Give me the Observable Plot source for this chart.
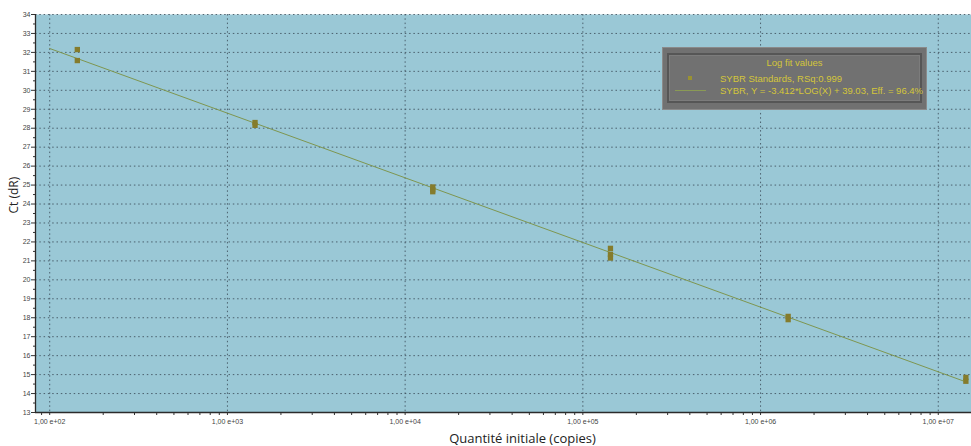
<!DOCTYPE html>
<html>
<head>
<meta charset="utf-8">
<script src="https://cdn.jsdelivr.net/npm/d3@7"></script>
<script src="https://cdn.jsdelivr.net/npm/@observablehq/plot@0.6"></script>
<style>
  body { margin: 0; background: #fff; }
  #wrap { position: relative; width: 971px; height: 446px; overflow: hidden; }
  #wrap svg { position: absolute; left: 0; top: 0; }
  .legend { position: absolute; left: 662px; top: 47px; width: 265px; height: 63px; box-sizing: border-box;
            background: #717171; border: 1px solid #8a8a8a; font-family: "Liberation Sans", Arial, sans-serif; color: #D4C63A; }
  .legend .inner { position: absolute; left: 4px; top: 5px; right: 4px; bottom: 6px; border: 2px solid #565656; box-shadow: inset 0 0 0 1px #7c7c7c; }
  .legend .t { position: absolute; font-size: 9.5px; white-space: nowrap; line-height: 1; }
</style>
</head>
<body>
<div id="wrap"></div>
<script>
// Data
const quantities = [143, 143, 1430, 1430, 14300, 14300, 14300, 143000, 143000, 143000, 1430000, 1430000, 14300000, 14300000];
const ctValues   = [32.15, 31.57, 28.3, 28.15, 24.9, 24.75, 24.65, 21.66, 21.35, 21.15, 18.07, 17.9, 14.85, 14.65];
const fitSlope = -3.412;
const fitIntercept = 39.03;
const fitRange = [100, 14300000];
const decadeTicks = [1e2, 1e3, 1e4, 1e5, 1e6, 1e7];
const ctTicks = d3.range(13, 35);
const ctMinorTicks = d3.range(13.5, 34, 1);
const legendTitle = "Log fit values";
const legendLines = ["SYBR Standards, RSq:0.999", "SYBR, Y = -3.412*LOG(X) + 39.03, Eff. = 96.4%"];

const xDomain = [Math.pow(10, 1.92), Math.pow(10, 7.187)];
const minorXTicks = [];
for (let e = 1; e <= 7; e++) for (let k = 2; k <= 9; k++) {
  const v = k * Math.pow(10, e);
  if (v > xDomain[0] && v < xDomain[1]) minorXTicks.push(v);
}
const points = quantities.map((q, i) => ({q, ct: ctValues[i]}));
const fit = fitRange.map(q => ({q, ct: fitSlope * Math.log10(q) + fitIntercept}));

const gridStyle = {stroke: "#3d4f5c", strokeOpacity: 0.85, strokeWidth: 1, strokeDasharray: "1.5,2.8"};

const svg = Plot.plot({
  width: 971, height: 446,
  marginLeft: 35, marginRight: 0, marginTop: 14, marginBottom: 34,
  style: {fontFamily: "Liberation Sans, Arial, sans-serif", background: "transparent", color: "#333"},
  x: {type: "log", domain: xDomain},
  y: {domain: [13, 34]},
  marks: [
    Plot.frame({fill: "#9AC8D6", stroke: null}),
    Plot.gridX(decadeTicks, gridStyle),
    Plot.gridY(ctTicks, gridStyle),
    Plot.axisX(minorXTicks, {tickSize: 3, tickFormat: () => "", label: null, stroke: "#333"}),
    Plot.axisX(decadeTicks, {tickSize: 3, tickPadding: 4, fontSize: 7, fill: "#444", stroke: "#333", label: null,
      tickFormat: d => "1,00 e+" + String(Math.round(Math.log10(d))).padStart(2, "0")}),
    Plot.axisY(ctMinorTicks, {tickSize: 2, tickFormat: () => "", label: null, stroke: "#333"}),
    Plot.axisY(ctTicks, {tickSize: 4, tickPadding: 1, fontSize: 7, fill: "#444", stroke: "#333", label: null}),
    Plot.ruleX([xDomain[0]], {stroke: "#2b2b2b", strokeWidth: 1.3}),
    Plot.ruleY([13], {stroke: "#2b2b2b", strokeWidth: 1.3}),
    Plot.line(fit, {x: "q", y: "ct", stroke: "#7E9650", strokeWidth: 1}),
    Plot.dot(points, {x: "q", y: "ct", symbol: "square", r: 3, fill: "#857C2C", stroke: null}),
    Plot.text(["Quantité initiale (copies)"], {frameAnchor: "bottom", dx: 19, dy: 26, lineAnchor: "middle",
      fontSize: 13, fill: "#222", fontFamily: "Open Sans, sans-serif"}),
    Plot.text(["Ct (dR)"], {frameAnchor: "left", dx: -21, rotate: -90, lineAnchor: "middle",
      fontSize: 12, fill: "#222", fontFamily: "Open Sans, sans-serif"})
  ]
});
const wrap = document.getElementById("wrap");
wrap.appendChild(svg);

const lg = document.createElement("div");
lg.className = "legend";
lg.innerHTML = `<div class="inner"></div>
  <div class="t" style="left:0;right:0;text-align:center;top:10px;">${legendTitle}</div>
  <div style="position:absolute;left:25px;top:28px;width:4px;height:4px;background:#9a9232;"></div>
  <div style="position:absolute;left:12px;top:42px;width:31px;height:1px;background:#8a9a55;"></div>
  <div class="t" style="left:57px;top:26px;">${legendLines[0]}</div>
  <div class="t" style="left:57px;top:38px;">${legendLines[1]}</div>`;
wrap.appendChild(lg);
</script>
</body>
</html>
